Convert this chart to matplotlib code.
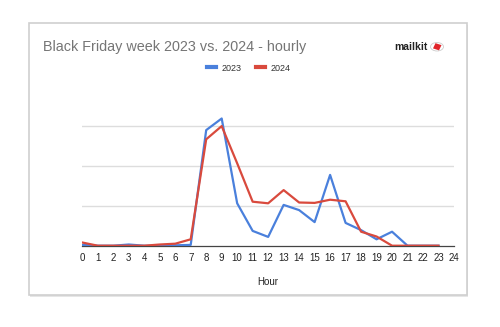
import matplotlib
matplotlib.use("Agg")
from matplotlib import pyplot as plt
from matplotlib.patches import Rectangle, Circle, Polygon
from matplotlib.lines import Line2D

plt.rcParams['font.family'] = ['Liberation Sans', 'DejaVu Sans']

hours = list(range(24))
# values in gridline units (gridlines at 1, 2, 3)
y2023 = [0.02, 0.0, 0.0, 0.03, 0.0, 0.0, 0.01, 0.02, 2.89, 3.18, 1.06, 0.37,
         0.22, 1.02, 0.89, 0.59, 1.77, 0.57, 0.39, 0.16, 0.35, 0.0, 0.0, 0.0]
y2024 = [0.08, 0.0, 0.0, 0.0, 0.0, 0.03, 0.05, 0.16, 2.66, 2.99, 2.06, 1.10,
         1.06, 1.39, 1.08, 1.07, 1.15, 1.11, 0.35, 0.23, 0.0, 0.0, 0.0, 0.0]
series = ["2023", "2024"]
colors = ["#4a80dc", "#d94a3d"]

fig = plt.figure(figsize=(5, 3.27), dpi=100)

# card background with a faint shadow
shadow = Rectangle((0.059, 0.092), 0.877, 0.832, transform=fig.transFigure,
                   facecolor="#e6e6e6", edgecolor="none", zorder=-2)
fig.patches.append(shadow)
card = Rectangle((0.057, 0.098), 0.877, 0.832, transform=fig.transFigure,
                 facecolor="white", edgecolor="#cfcfcf", linewidth=1.2, zorder=-1)
fig.patches.append(card)

ax = fig.add_axes([0.1646, 0.2486, 0.7434, 0.4037])
ax.plot(hours, y2023, color=colors[0], linewidth=1.6, zorder=3)
ax.plot(hours, y2024, color=colors[1], linewidth=1.6, zorder=4)

ax.set_xlim(0, 24)
ax.set_ylim(0, 3.3)
ax.set_xticks(range(25))
ax.set_xticklabels([str(h) for h in range(25)], fontsize=7, color="#222222")
ax.set_yticks([1, 2, 3])
ax.set_yticklabels([])
ax.tick_params(axis="both", length=0, pad=5)
ax.grid(axis="y", color="#dddddd", linewidth=1)
ax.set_axisbelow(True)
for s in ["top", "right", "left"]:
    ax.spines[s].set_visible(False)
ax.spines["bottom"].set_color("#444444")
ax.spines["bottom"].set_linewidth(0.9)
ax.set_facecolor("none")
ax.set_xlabel("Hour", fontsize=7, color="#222222", labelpad=10)

fig.text(0.086, 0.857, "Black Friday week 2023 vs. 2024 - hourly", fontsize=10.4,
         color="#757575", va="center", ha="left")

handles = [Line2D([0], [0], color=c, linewidth=3) for c in colors]
fig.legend(handles, series, loc="center", bbox_to_anchor=(0.497, 0.792), ncol=2,
           frameon=False, fontsize=6.5, handlelength=1.0, handletextpad=0.6,
           columnspacing=1.6, labelcolor="#333333")

# logo
fig.text(0.856, 0.857, "mailkit", fontsize=7.5, fontweight="bold", color="#222222",
         va="center", ha="right")
fig.patches.append(Circle((0.874, 0.857), 0.013, transform=fig.transFigure,
                          facecolor="white", edgecolor="#cccccc", linewidth=0.6))
fig.patches.append(Polygon([[0.866, 0.852], [0.878, 0.846], [0.883, 0.862], [0.871, 0.868]],
                           closed=True, transform=fig.transFigure, facecolor="#e0242a",
                           edgecolor="none"))

fig.savefig("out.png", dpi=100)
